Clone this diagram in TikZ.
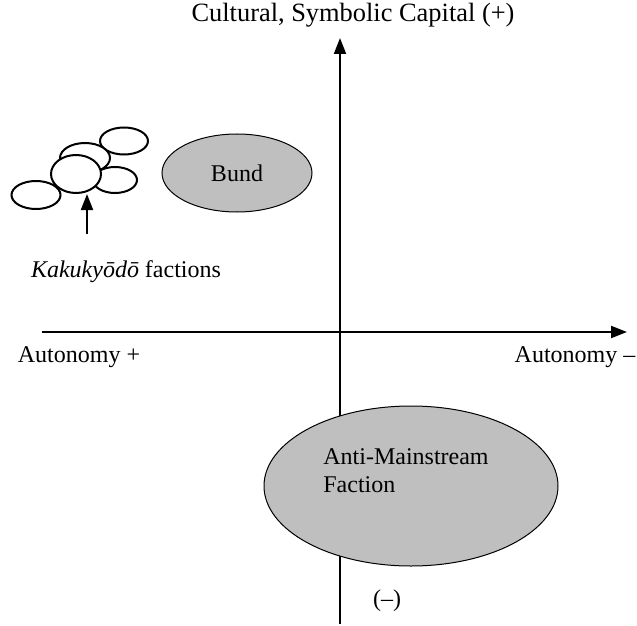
\documentclass[tikz,border=0pt]{standalone}
\usepackage{fontspec}
\setmainfont{Liberation Serif}
\usetikzlibrary{shapes.geometric,arrows.meta}

\begin{document}
\begin{tikzpicture}[x=0.5pt,y=-0.5pt,
  font=\fontsize{12}{14}\selectfont,
  faction/.style={ellipse,draw,fill=white,line width=1pt,inner sep=0pt},
  bloc/.style={ellipse,draw,fill=black!25,line width=0.5pt,inner sep=0pt},
  axis/.style={line width=1pt,-{Triangle[length=8pt,width=6pt]}}]
\useasboundingbox (0,0) rectangle (637,626);
% axes
\coordinate (ybot) at (340,624);
\coordinate (ytop) at (340,38);
\coordinate (xleft) at (42,332);
\coordinate (xright) at (627,332);
\draw[axis] (ybot) -- (ytop);
\draw[axis] (xleft) -- (xright);
\node[bloc,minimum width=147pt,minimum height=80pt] (anti) at (411,486) {};
\node (antilabel) at (406,471) [align=left] {Anti-Mainstream\\Faction};
\node[bloc,minimum width=75pt,minimum height=39pt] (bund) at (237,173) {Bund};
% axis labels
\node[font=\fontsize{13.2}{15}\selectfont] (cultural) at (353,15) {Cultural, Symbolic Capital (+)};
\node (autplus) at (79,357) {Autonomy +};
\node (autminus) at (575,357) {Autonomy --};
\node (minus) at (387,601) {(--)};
% kakukyodo cluster
\node[faction,minimum width=24pt,minimum height=13.5pt] (kak1) at (124,141) {};
\node[faction,minimum width=25pt,minimum height=15pt] (kak2) at (85,158) {};
\node[faction,minimum width=22pt,minimum height=13pt] (kak3) at (115,180) {};
\node[faction,minimum width=24.5pt,minimum height=14pt] (kak4) at (36,195) {};
\node[faction,minimum width=25pt,minimum height=19pt] (kak5) at (76,174) {};
\node (kaklabel) at (126,272) {\textit{Kakuky\=od\=o} factions};
\coordinate (kaktail) at (87,234);
\coordinate (kaktip) at (87,194);
\draw[axis] (kaktail) -- (kaktip);
\end{tikzpicture}
\end{document}
